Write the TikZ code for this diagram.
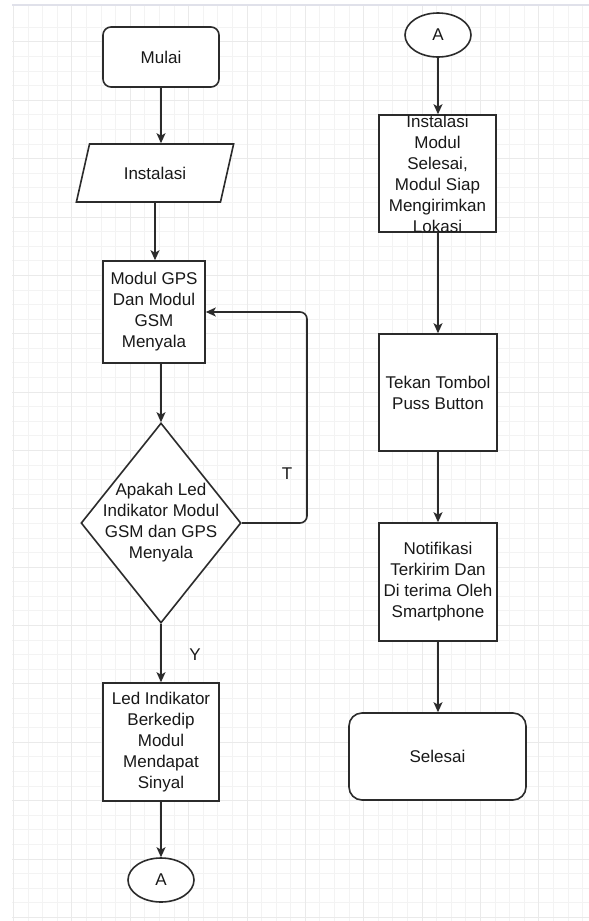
\documentclass[tikz,border=0pt]{standalone}
\usepackage{fontspec}
\setmainfont{Liberation Sans}
\usetikzlibrary{shapes.geometric,arrows.meta}
\definecolor{garis}{HTML}{2B2B2B}
\definecolor{kisikecil}{HTML}{F3F3F3}
\definecolor{kisibesar}{HTML}{EAEAEA}
\definecolor{tepiatas}{HTML}{E0E1EA}
\begin{document}
\begin{tikzpicture}[x=1pt,y=-1pt,
    every node/.style={font=\fontsize{17}{21}\selectfont, align=center, text=black!90},
    kotak/.style={draw=garis, line width=1.6pt, fill=white, inner sep=0pt,
      minimum width=118pt, minimum height=118pt},
    terminal/.style={kotak, rounded corners=#1},
    konektor/.style={draw=garis, line width=1.6pt, fill=white, ellipse, inner sep=0pt,
      minimum width=66pt, minimum height=44pt},
    panah/.style={draw=garis, line width=1.6pt, -{Stealth[length=10pt,width=9pt,inset=2.5pt]}}]
  \useasboundingbox (0,0) rectangle (589,921);
  \fill[white] (0,0) rectangle (589,921);
  \foreach \i in {0,...,39}
    \draw[kisikecil, line width=1pt] ({13.6+14.59*\i},5) -- ({13.6+14.59*\i},921);
  \foreach \j in {1,...,62}
    \draw[kisikecil, line width=1pt] (12,{12.8+14.59*\j}) -- (589,{12.8+14.59*\j});
  \foreach \i in {0,4,...,36}
    \draw[kisibesar, line width=1pt] ({13.6+14.59*\i},5) -- ({13.6+14.59*\i},921);
  \foreach \j in {2,6,...,62}
    \draw[kisibesar, line width=1pt] (12,{12.8+14.59*\j}) -- (589,{12.8+14.59*\j});
  \draw[tepiatas, line width=2pt] (12,5) -- (589,5);

  \node[terminal=8pt, minimum width=116pt, minimum height=60pt] (mulai) at (161,57) {Mulai};
  \node[draw=garis, line width=1.6pt, fill=white, trapezium, trapezium stretches=true,
    trapezium left angle=63.4, trapezium right angle=116.6, inner sep=0pt,
    minimum width=158pt, minimum height=58pt] (instalasi) at (155,173) {Instalasi};
  \node[kotak, minimum width=102pt, minimum height=102pt] (gps) at (154,312)
    {Modul GPS\\Dan Modul\\GSM\\Menyala};
  \node[draw=garis, line width=1.6pt, fill=white, diamond, inner sep=0pt,
    minimum width=160pt, minimum height=200pt] (cek) at (161,523) {};
  \node (cekteks) at (cek) {Apakah Led\\Indikator Modul\\GSM dan GPS\\Menyala};
  \node[kotak, minimum width=116pt] (kedip) at (161,742)
    {Led Indikator\\Berkedip\\Modul\\Mendapat\\Sinyal};
  \node[konektor] (a1) at (161,880) {A};
  \node (t) at (287,474) {T};
  \node (y) at (195,655) {Y};
  \coordinate (balik) at (307,312);

  \node[konektor] (a2) at (438,35) {A};
  \node[kotak, minimum width=117pt, minimum height=117pt] (siap) at (437.5,173.5) {};
  \node (siapteks) at (siap) {Instalasi\\Modul\\Selesai,\\Modul Siap\\Mengirimkan\\Lokasi};
  \node[kotak, minimum height=117pt] (tekan) at (438,392.5) {Tekan Tombol\\Puss Button};
  \node[kotak] (notif) at (438,582)
    {Notifikasi\\Terkirim Dan\\Di terima Oleh\\Smartphone};
  \node[terminal=13pt, minimum width=177pt, minimum height=87pt] (selesai) at (437.5,756.5) {Selesai};

  \begin{scope}[panah]
    \draw (mulai.south) -- (mulai.south |- instalasi.north);
    \draw (instalasi.south) -- (instalasi.south |- gps.north);
    \draw (cek.north |- gps.south) -- (cek.north);
    \draw[rounded corners=7pt] (cek.east) -| (balik) -- (gps.east);
    \draw (cek.south) -- (kedip.north);
    \draw (kedip.south) -- (a1.north);
    \draw (a2.south) -- (a2.south |- siap.north);
    \draw (a2.south |- siap.south) -- (a2.south |- tekan.north);
    \draw (a2.south |- tekan.south) -- (a2.south |- notif.north);
    \draw (a2.south |- notif.south) -- (a2.south |- selesai.north);
  \end{scope}
\end{tikzpicture}
\end{document}
